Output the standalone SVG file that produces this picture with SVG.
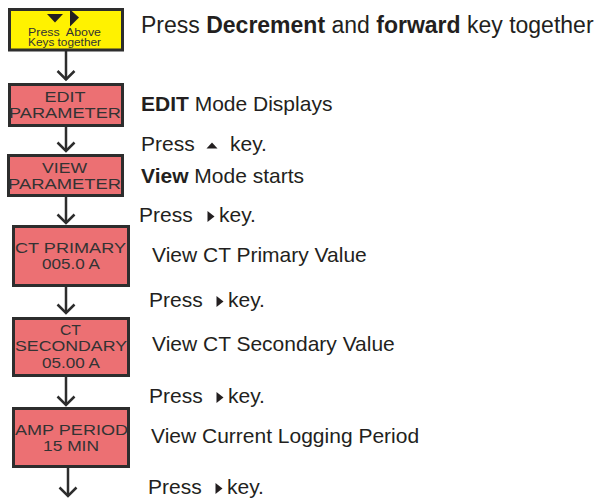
<svg xmlns="http://www.w3.org/2000/svg" width="596" height="499" viewBox="0 0 596 499">
<style>
.box{fill:#ec7073;stroke:#2d2d2d;stroke-width:3}
.yel{fill:#fff200;stroke:#2d2d2d;stroke-width:3}
.bt{font-family:"Liberation Sans",Arial,sans-serif;font-size:14.5px;fill:#333;text-anchor:middle}
.yt{font-family:"Liberation Sans",Arial,sans-serif;font-size:10px;fill:#333;text-anchor:middle}
.rt{font-family:"Liberation Sans",Arial,sans-serif;font-size:21px;fill:#231f20}
.b{font-weight:bold}
.con line{stroke:#2d2d2d;stroke-width:2.5}
.con polyline{fill:none;stroke:#2d2d2d;stroke-width:2.5}
.ic{fill:#231f20}
</style>
<rect width="596" height="499" fill="#fff"/>
<g id="connectors" class="con">
<line x1="66" y1="51" x2="66" y2="80"/><polyline points="57.5,71 66,79.5 74.5,71"/>
<line x1="66" y1="127" x2="66" y2="151"/><polyline points="57.5,142.5 66,151 74.5,142.5"/>
<line x1="66" y1="197" x2="66" y2="223"/><polyline points="57.5,214.5 66,223 74.5,214.5"/>
<line x1="66" y1="287" x2="66" y2="313"/><polyline points="57.5,304.5 66,313 74.5,304.5"/>
<line x1="66" y1="377" x2="66" y2="405"/><polyline points="57.5,396.5 66,405 74.5,396.5"/>
<line x1="68" y1="468" x2="68" y2="496"/><polyline points="59.5,487.5 68,496 76.5,487.5"/>
</g>
<g id="start">
<rect class="yel" x="9.5" y="9.5" width="113" height="40.5"/>
<polygon class="ic" points="47,14 63,14 55,22.5"/>
<polygon class="ic" points="70,9.5 79,17.5 70,26.5"/>
<text class="yt" x="64.5" y="36" textLength="73" lengthAdjust="spacingAndGlyphs" xml:space="preserve">Press  Above</text>
<text class="yt" x="64.5" y="46" textLength="73" lengthAdjust="spacingAndGlyphs">Keys together</text>
</g>
<g id="edit">
<rect class="box" x="9.5" y="84.5" width="113" height="41"/>
<text class="bt" x="65" y="101.5" textLength="41" lengthAdjust="spacingAndGlyphs">EDIT</text>
<text class="bt" x="65" y="118" textLength="112" lengthAdjust="spacingAndGlyphs">PARAMETER</text>
</g>
<g id="view">
<rect class="box" x="8.5" y="155.5" width="114" height="40"/>
<text class="bt" x="64.5" y="173" textLength="45" lengthAdjust="spacingAndGlyphs">VIEW</text>
<text class="bt" x="64.5" y="189" textLength="113" lengthAdjust="spacingAndGlyphs">PARAMETER</text>
</g>
<g id="ctprimary">
<rect class="box" x="13.5" y="226.5" width="115" height="59"/>
<text class="bt" x="70.5" y="253" textLength="111" lengthAdjust="spacingAndGlyphs">CT PRIMARY</text>
<text class="bt" x="71" y="269" textLength="58" lengthAdjust="spacingAndGlyphs">005.0 A</text>
</g>
<g id="ctsecondary">
<rect class="box" x="13.5" y="318.5" width="115" height="57"/>
<text class="bt" x="70.5" y="335" textLength="21" lengthAdjust="spacingAndGlyphs">CT</text>
<text class="bt" x="71" y="351" textLength="112" lengthAdjust="spacingAndGlyphs">SECONDARY</text>
<text class="bt" x="71" y="367.5" textLength="58" lengthAdjust="spacingAndGlyphs">05.00 A</text>
</g>
<g id="ampperiod">
<rect class="box" x="13.5" y="408.5" width="115" height="58"/>
<text class="bt" x="71.5" y="435" textLength="113" lengthAdjust="spacingAndGlyphs">AMP PERIOD</text>
<text class="bt" x="71" y="451" textLength="56" lengthAdjust="spacingAndGlyphs">15 MIN</text>
</g>
<g id="notes">
<text class="rt" x="141" y="33" style="font-size:23px">Press <tspan class="b">Decrement</tspan> and <tspan class="b">forward</tspan> key together</text>
<text class="rt" x="141" y="111"><tspan class="b">EDIT</tspan> Mode Displays</text>
<text class="rt" x="141" y="151">Press</text>
<polygon class="ic" points="206.5,148.5 212,142.5 217.5,148.5"/>
<text class="rt" x="230" y="151">key.</text>
<text class="rt" x="141" y="183"><tspan class="b">View</tspan> Mode starts</text>
<text class="rt" x="139" y="222">Press</text>
<polygon class="ic" points="207.5,211 214.5,216.5 207.5,222"/>
<text class="rt" x="219" y="222">key.</text>
<text class="rt" x="152" y="262">View CT Primary Value</text>
<text class="rt" x="149" y="307">Press</text>
<polygon class="ic" points="216.5,296 223.5,301.5 216.5,307"/>
<text class="rt" x="228" y="307">key.</text>
<text class="rt" x="152" y="351">View CT Secondary Value</text>
<text class="rt" x="149" y="403">Press</text>
<polygon class="ic" points="216.5,392 223.5,397.5 216.5,403"/>
<text class="rt" x="228" y="403">key.</text>
<text class="rt" x="151" y="443">View Current Logging Period</text>
<text class="rt" x="148" y="494">Press</text>
<polygon class="ic" points="215.5,483 222.5,488.5 215.5,494"/>
<text class="rt" x="227" y="494">key.</text>
</g>
</svg>
